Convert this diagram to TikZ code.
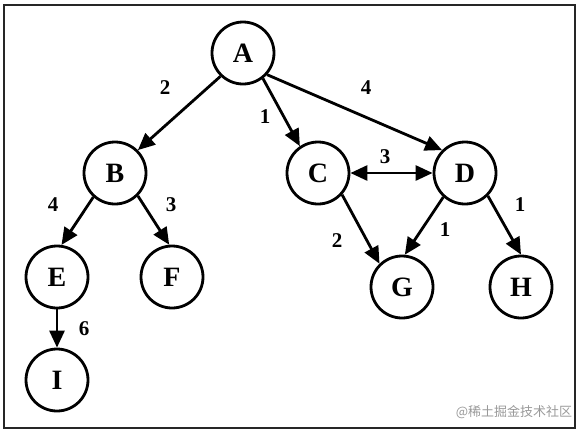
\documentclass[tikz,border=0pt]{standalone}
\usepackage{fontspec}
\setmainfont{Liberation Serif}
\newfontfamily\cjk{Noto Sans CJK SC}
\usetikzlibrary{arrows.meta}

\tikzset{
    vertex/.style={circle, draw, line width=2.8pt, minimum size=62pt, inner sep=0pt,
        font=\fontsize{28}{28}\selectfont\bfseries},
    weight/.style={font=\fontsize{21}{21}\selectfont\bfseries, inner sep=1pt},
    link/.style={line width=2.8pt, -{Triangle[length=17pt,width=15pt]}},
    twolink/.style={line width=2.8pt, {Triangle[length=17pt,width=15pt]}-{Triangle[length=17pt,width=15pt]}},
}

\begin{document}
\begin{tikzpicture}[x=1pt, y=-1pt]

    % Fix the page size and draw the frame
    \useasboundingbox (0,0) rectangle (579,432);
    \draw[line width=2pt, black!85] (4,5) rectangle (575,428);

    % Vertices of the graph
    \node[vertex] (A) at (243, 53) {A};
    \node[vertex] (B) at (115, 173) {B};
    \node[vertex] (C) at (318, 173) {C};
    \node[vertex] (D) at (465, 173) {D};
    \node[vertex] (E) at (57, 277) {E};
    \node[vertex] (F) at (172, 277) {F};
    \node[vertex] (G) at (402, 287) {G};
    \node[vertex] (H) at (521, 287) {H};
    \node[vertex] (I) at (57, 380) {I};

    % Directed edges
    \draw[link] (A.-134) -- (B.45);
    \draw[link] (A.-52) -- (C.124);
    \draw[link] (A.-42) -- (D.135);
    \draw[twolink] (C.east) -- (D.west);
    \draw[link] (B.-132) -- (E.82);
    \draw[link] (B.-45) -- (F.95);
    \draw[link] (E.south) -- (I.north);
    \draw[link] (C.-42) -- (G.134);
    \draw[link] (D.-132) -- (G.85);
    \draw[link] (D.-45) -- (H.90);

    % Edge weights
    \node[weight] (wAB) at (165, 88) {2};
    \node[weight] (wAC) at (265, 117) {1};
    \node[weight] (wAD) at (366, 88) {4};
    \node[weight] (wCD) at (385, 157) {3};
    \node[weight] (wBE) at (53, 205) {4};
    \node[weight] (wBF) at (171, 205) {3};
    \node[weight] (wCG) at (337, 241) {2};
    \node[weight] (wDG) at (445, 230) {1};
    \node[weight] (wDH) at (520, 205) {1};
    \node[weight] (wEI) at (84, 329) {6};

    % Watermark
    \node[text=black!40, font=\cjk\fontsize{13}{13}\selectfont] (mark) at (514, 412) {@稀土掘金技术社区};

\end{tikzpicture}
\end{document}
